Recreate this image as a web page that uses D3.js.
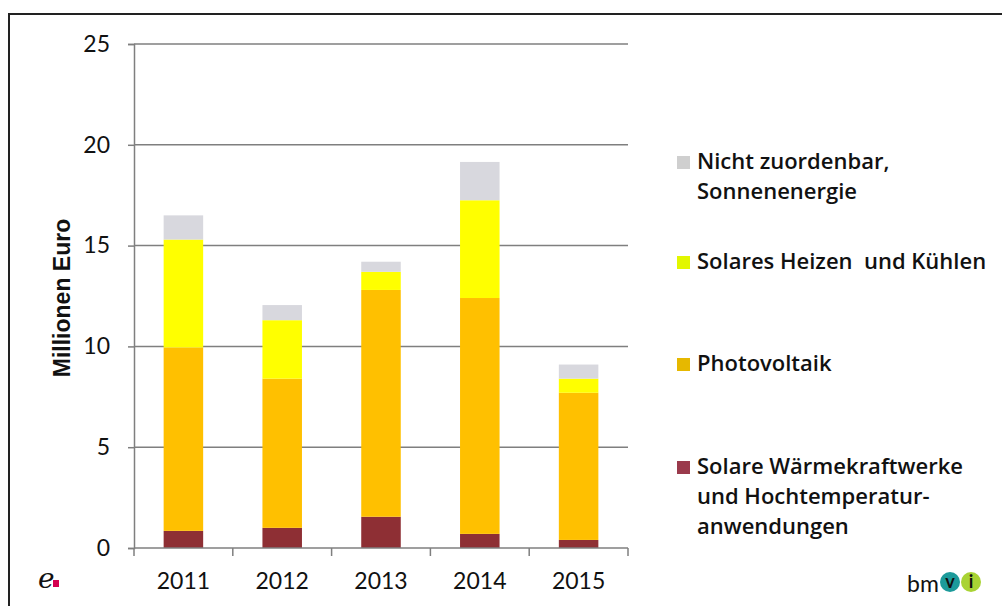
<!DOCTYPE html>
<html>
<head>
<meta charset="utf-8">
<script src="https://cdn.jsdelivr.net/npm/d3@7"></script>
<style>
  body { margin: 0; background: #fff; }
  svg { display: block; }
  text { font-family: Lato, "Open Sans", sans-serif; fill: #111; }
</style>
</head>
<body>
<svg id="chart" width="1002" height="606"></svg>
<script>
// categories
const years = ["2011", "2012", "2013", "2014", "2015"];

// series values (Millionen Euro), bottom to top
const waermekraft = [0.85, 1.0, 1.55, 0.7, 0.4];
const photovoltaik = [9.1, 7.4, 11.25, 11.7, 7.3];
const heizenKuehlen = [5.35, 2.9, 0.9, 4.85, 0.7];
const nichtZuordenbar = [1.2, 0.75, 0.5, 1.9, 0.7];

const yTicks = [0, 5, 10, 15, 20, 25];

const seriesKeys = ["waerme", "pv", "heizen", "nicht"];
const seriesColors = {waerme: "#8e2f34", pv: "#ffc000", heizen: "#ffff00", nicht: "#d8d8de"};
const legendColors = {waerme: "#9a3a4c", pv: "#e6b800", heizen: "#e2f700", nicht: "#cfcfcf"};
const legendLines = {
  nicht: ["Nicht zuordenbar,", "Sonnenenergie"],
  heizen: ["Solares Heizen  und Kühlen"],
  pv: ["Photovoltaik"],
  waerme: ["Solare Wärmekraftwerke", "und Hochtemperatur-", "anwendungen"]
};

const rows = years.map((y, i) => ({
  year: y,
  waerme: waermekraft[i],
  pv: photovoltaik[i],
  heizen: heizenKuehlen[i],
  nicht: nichtZuordenbar[i]
}));

const svg = d3.select("#chart");

// frame (top and left edges visible)
svg.append("path")
  .attr("d", "M9,606 V14 H1002")
  .attr("fill", "none")
  .attr("stroke", "#222")
  .attr("stroke-width", 2);

const plot = {left: 134, right: 628, top: 44, bottom: 548};

const x = d3.scaleBand()
  .domain(years)
  .range([plot.left, plot.right])
  .paddingInner(0.6)
  .paddingOuter(0.3);

const y = d3.scaleLinear()
  .domain([0, 25])
  .range([plot.bottom, plot.top]);

// gridlines
svg.append("g")
  .selectAll("line")
  .data(yTicks.filter(d => d > 0))
  .join("line")
  .attr("x1", plot.left)
  .attr("x2", plot.right)
  .attr("y1", d => y(d))
  .attr("y2", d => y(d))
  .attr("stroke", "#7f7f7f")
  .attr("stroke-width", 1.5);

// stacked bars
const stack = d3.stack().keys(seriesKeys)(rows);

svg.append("g")
  .selectAll("g")
  .data(stack)
  .join("g")
  .attr("fill", d => seriesColors[d.key])
  .selectAll("rect")
  .data(d => d)
  .join("rect")
  .attr("x", d => x(d.data.year))
  .attr("width", x.bandwidth())
  .attr("y", d => y(d[1]))
  .attr("height", d => y(d[0]) - y(d[1]));

// y axis
const yAxis = svg.append("g")
  .attr("transform", `translate(${plot.left},0)`)
  .call(d3.axisLeft(y).tickValues(yTicks).tickSize(6).tickPadding(18));
yAxis.select(".domain").attr("stroke", "#7f7f7f").attr("stroke-width", 1.5);
yAxis.selectAll(".tick line").attr("stroke", "#7f7f7f").attr("stroke-width", 1.5);
yAxis.selectAll(".tick text")
  .style("font-family", "Lato, sans-serif")
  .style("font-size", "23px")
  .attr("fill", "#111");

// x axis with ticks on band boundaries
const xAxis = svg.append("g")
  .attr("transform", `translate(0,${plot.bottom})`);
xAxis.append("line")
  .attr("x1", plot.left).attr("x2", plot.right)
  .attr("stroke", "#7f7f7f").attr("stroke-width", 1.5);
const bounds = d3.range(years.length + 1).map(i => plot.left + i * (plot.right - plot.left) / years.length);
xAxis.selectAll(".xt")
  .data(bounds)
  .join("line")
  .attr("class", "xt")
  .attr("x1", d => d).attr("x2", d => d)
  .attr("y1", 0).attr("y2", 8)
  .attr("stroke", "#7f7f7f").attr("stroke-width", 1.5);
xAxis.selectAll(".xl")
  .data(years)
  .join("text")
  .attr("class", "xl")
  .attr("x", d => x(d) + x.bandwidth() / 2)
  .attr("y", 41)
  .attr("text-anchor", "middle")
  .style("font-size", "23px")
  .text(d => d);

// y axis title
svg.append("text")
  .attr("transform", "translate(70,298) rotate(-90)")
  .attr("text-anchor", "middle")
  .style("font-family", "'Liberation Sans', Arial, sans-serif")
  .style("font-weight", "bold")
  .style("font-size", "23px")
  .text("Millionen Euro");

// legend
const legendTop = {nicht: 169, heizen: 269, pv: 371, waerme: 474};
const legend = svg.append("g");
["nicht", "heizen", "pv", "waerme"].forEach(k => {
  const g = legend.append("g").attr("transform", `translate(677,${legendTop[k]})`);
  g.append("rect")
    .attr("x", 0).attr("y", -13)
    .attr("width", 13).attr("height", 13)
    .attr("fill", legendColors[k]);
  g.selectAll("text")
    .data(legendLines[k])
    .join("text")
    .attr("x", 20)
    .attr("y", (d, i) => i * 30)
    .style("font-family", "'Open Sans', sans-serif")
    .style("font-weight", "600")
    .style("font-size", "22px")
    .style("white-space", "pre")
    .text(d => d);
});

// bottom left logo
svg.append("text")
  .attr("x", 38).attr("y", 588)
  .style("font-family", "'DejaVu Serif', serif")
  .style("font-style", "italic")
  .style("font-size", "28px")
  .attr("fill", "#d4004f")
  .text("e");
svg.append("rect")
  .attr("x", 53).attr("y", 580).attr("width", 6).attr("height", 7)
  .attr("fill", "#d4004f");

// bottom right logo
svg.append("text")
  .attr("x", 907).attr("y", 592)
  .style("font-size", "23px")
  .attr("fill", "#555")
  .text("bm");
svg.append("circle").attr("cx", 950).attr("cy", 582).attr("r", 10).attr("fill", "#1c9a9a");
svg.append("text")
  .attr("x", 950).attr("y", 588)
  .attr("text-anchor", "middle")
  .style("font-size", "18px").style("font-weight", "bold")
  .attr("fill", "#fff")
  .text("v");
svg.append("circle").attr("cx", 971).attr("cy", 582).attr("r", 10).attr("fill", "#a9d334");
svg.append("text")
  .attr("x", 971).attr("y", 588)
  .attr("text-anchor", "middle")
  .style("font-size", "18px").style("font-weight", "bold")
  .attr("fill", "#fff")
  .text("i");
</script>
</body>
</html>
